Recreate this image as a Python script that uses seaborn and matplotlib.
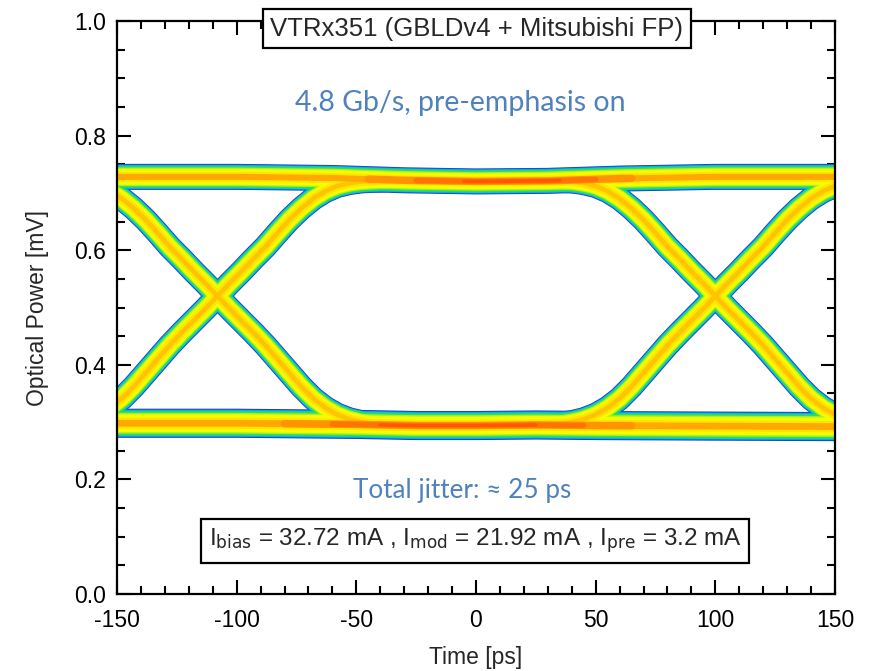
import numpy as np
import pandas as pd
import matplotlib
matplotlib.use("Agg")
import matplotlib.pyplot as plt
from matplotlib.ticker import MultipleLocator
import seaborn as sns

# ---------------- data ----------------
# crossing times of the eye (ps)
cross_times = [-108, 100]
# transition profile relative to a crossing (ps offset) and levels (mV)
dt = [-70, -65, -60, -55, -50, -45, -40, -35, -30, -25, -20, -15, -10, -5, 0,
      5, 10, 15, 20, 25, 30, 35, 40, 45, 50, 55, 60, 65, 70]
rise_v = [0.296, 0.297, 0.300, 0.305, 0.313, 0.325, 0.341, 0.362, 0.386,
          0.410, 0.434, 0.456, 0.477, 0.498, 0.520, 0.542, 0.563, 0.585,
          0.606, 0.630, 0.653, 0.673, 0.690, 0.703, 0.712, 0.717, 0.720,
          0.721, 0.722]
fall_v = [0.722, 0.721, 0.720, 0.717, 0.712, 0.703, 0.690, 0.673, 0.653,
          0.630, 0.606, 0.585, 0.563, 0.542, 0.520, 0.498, 0.477, 0.456,
          0.434, 0.410, 0.386, 0.362, 0.341, 0.325, 0.313, 0.305, 0.300,
          0.297, 0.296]
# upper ("1") rail
upper_t = [-160, -100, -60, -30, 0, 30, 60, 100, 160]
upper_v = [0.728, 0.728, 0.726, 0.722, 0.720, 0.721, 0.725, 0.728, 0.728]
# lower ("0") rail
lower_t = [-160, -100, -50, -25, 0, 25, 50, 100, 160]
lower_v = [0.298, 0.298, 0.296, 0.294, 0.294, 0.295, 0.294, 0.293, 0.292]
# densest stretches of the rails (warm -> hot -> hottest)
upper_spans = [(-45, 65), (-25, 50), (-5, 35)]
lower_spans = [(-80, 65), (-60, 45), (-40, 25)]

title = "VTRx351 (GBLDv4 + Mitsubishi FP)"
note1 = "4.8 Gb/s, pre-emphasis on"
note2 = "Total jitter: \u2248 25 ps"
currents = r"I$_{\rm bias}$ = 32.72 mA , I$_{\rm mod}$ = 21.92 mA , I$_{\rm pre}$ = 3.2 mA"
x_ticks = [-150, -100, -50, 0, 50, 100, 150]
y_ticks = [0.0, 0.2, 0.4, 0.6, 0.8, 1.0]

# ---------------- style ----------------
sns.set_theme(style="white")
plt.rcParams["font.family"] = ["Liberation Sans", "DejaVu Sans"]
plt.rcParams["axes.unicode_minus"] = False
plt.rcParams["mathtext.default"] = "regular"

fig = plt.figure(figsize=(8.7, 6.71), dpi=100)
ax = fig.add_axes([117 / 870, 77 / 671, (835 - 117) / 870, (594 - 21) / 671])

# traces as dataframes: (frame, width scale, is_rail)
traces = []
for c in cross_times:
    t = [c + d for d in dt]
    traces.append((pd.DataFrame({"t": t, "v": rise_v}), 0.92, False))
    traces.append((pd.DataFrame({"t": t, "v": fall_v}), 0.92, False))
up_df = pd.DataFrame({"t": upper_t, "v": upper_v})
lo_df = pd.DataFrame({"t": lower_t, "v": lower_v})
traces.append((up_df, 1.0, True))
traces.append((lo_df, 1.12, True))

# colour layers (outer -> inner), widths in pixels, rails-only flag
px = 72 / 100
layers = [
    ("#2a2ad0", 26, False),
    ("#0098e8", 24.5, False),
    ("#00d2c8", 23, False),
    ("#3cdc48", 21, False),
    ("#a8f028", 18.5, False),
    ("#f4fc00", 16, False),
    ("#ffe400", 10, False),
    ("#ffc400", 5, False),
    ("#ffa800", 6, True),
]
for color, w, rails_only in layers:
    for df, s, is_rail in traces:
        if rails_only and not is_rail:
            continue
        sns.lineplot(data=df, x="t", y="v", ax=ax, color=color,
                     linewidth=w * s * px, sort=False, estimator=None,
                     solid_capstyle="round", legend=False)

# hot centres on the rails (soft gradient)
heat = [("#ff9400", 7.5), ("#ff7400", 5.5), ("#ff5600", 3.5)]
for df, spans in [(up_df, upper_spans), (lo_df, lower_spans)]:
    for (a, b), (color, w) in zip(spans, heat):
        tt = np.linspace(a, b, 40)
        seg = pd.DataFrame({"t": tt, "v": np.interp(tt, df["t"], df["v"])})
        sns.lineplot(data=seg, x="t", y="v", ax=ax, color=color,
                     linewidth=w * px, sort=False, estimator=None,
                     solid_capstyle="round", legend=False)

# axes
ax.set_xlim(-150, 150)
ax.set_ylim(0, 1.0)
ax.set_xticks(x_ticks)
ax.set_xticklabels([str(v) for v in x_ticks])
ax.set_yticks(y_ticks)
ax.set_yticklabels([f"{v:.1f}" for v in y_ticks])
ax.xaxis.set_minor_locator(MultipleLocator(10))
ax.yaxis.set_minor_locator(MultipleLocator(0.05))
ax.tick_params(which="both", direction="in", top=True, right=True,
               bottom=True, left=True, colors="black", width=1.5,
               labelsize=16.5)
ax.tick_params(axis="x", which="major", pad=11)
ax.tick_params(axis="y", which="major", pad=8)
ax.tick_params(which="major", length=10)
ax.tick_params(which="minor", length=5.5)
for sp in ax.spines.values():
    sp.set_color("black")
    sp.set_linewidth(1.6)
ax.set_xlabel("Time [ps]", fontsize=16.5, labelpad=10)
ax.set_ylabel("Optical Power [mV]", fontsize=16.5, labelpad=18)
ax.grid(False)

# annotations
ax.text(0.4, 0.9865, title, ha="center", va="center", fontsize=18.5,
        clip_on=False, zorder=10,
        bbox=dict(boxstyle="square,pad=0.3", fc="white", ec="black", lw=1.6))
ax.text(-6.7, 0.857, note1, ha="center", va="center", fontsize=20.5,
        color="#4f81bd", family=["Lato", "DejaVu Sans"], zorder=10)
ax.text(-5.8, 0.1815, note2, ha="center", va="center", fontsize=18.8,
        color="#4f81bd", family=["Lato", "DejaVu Sans"], zorder=10)
ax.text(-0.4, 0.0925, currents, ha="center", va="center", fontsize=17.5,
        zorder=10,
        bbox=dict(boxstyle="square,pad=0.3", fc="white", ec="black", lw=1.6))

fig.savefig("out.png", dpi=100)
